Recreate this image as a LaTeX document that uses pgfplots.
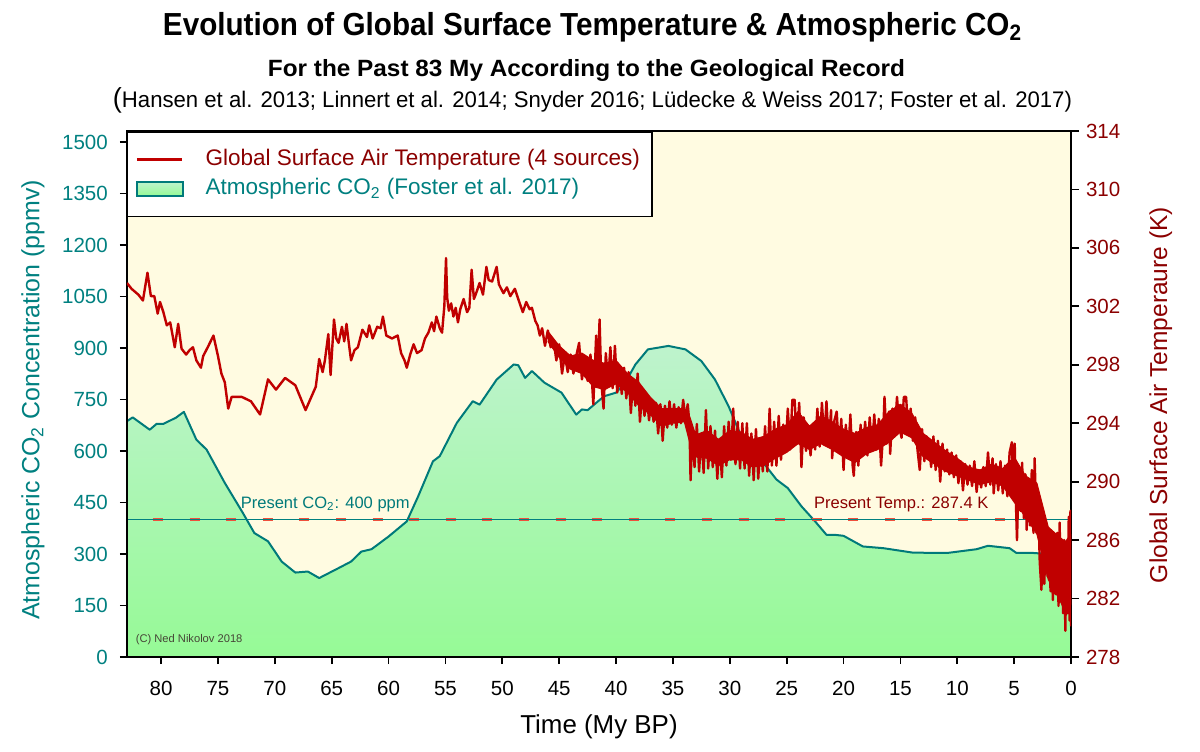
\documentclass[border=0pt]{standalone}
\usepackage{fontspec}
\setmainfont{Liberation Sans}
\usepackage{graphicx}
\usepackage{pgfplots}
\pgfplotsset{compat=1.18}
\usepackage{pgfplotstable}

\definecolor{tealc}{RGB}{0,128,128}
\definecolor{darkred}{RGB}{139,0,0}
\definecolor{tline}{RGB}{192,0,0}
\definecolor{cream}{RGB}{255,251,225}
\definecolor{gtop}{RGB}{190,243,205}
\definecolor{gbot}{RGB}{150,250,150}
\definecolor{co2line}{RGB}{0,122,122}
\definecolor{dashred}{RGB}{240,80,60}
\definecolor{copyc}{RGB}{70,70,55}

\pgfplotstableread{
t co2
83.0 687
82.5 698
81.0 662
80.4 679
79.8 679
78.7 697
78.0 714
76.9 633
76.0 604
74.4 507
72.8 419
71.8 361
70.6 337
69.4 278
68.2 246
67.1 249
66.1 230
64.4 259
63.3 278
62.4 307
61.5 314
60.0 351
58.4 395
57.4 468
56.1 570
55.5 585
54.0 682
52.6 745
52.0 735
50.5 808
49.0 852
48.6 850
48.0 813
47.4 833
46.3 799
44.8 770
43.5 706
43.0 721
42.5 719
41.4 750
41.0 760
40.0 770
39.2 799
38.3 852
37.2 896
35.4 906
33.9 896
32.5 862
31.3 808
30.1 730
29.0 643
27.5 585
25.9 517
24.9 492
23.7 439
22.5 395
21.5 356
20.8 356
20.0 353
18.3 322
16.5 317
13.9 304
10.9 303
8.3 314
7.3 324
5.4 317
4.8 303
3.3 303
2.0 300
1.0 295
0.0 290
}\cotwo

% core band of the high-frequency temperature record: upper edge (46 -> 0), then lower edge (0 -> 46)
\pgfplotstableread{
t T
46 300.3
45 299.3
44 298.6
43 298.8
42 298.3
41 298.1
40 298.3
39 297.4
38 296.8
37 295.8
36 295.0
35 295.0
34 295.0
33.5 294.4
33 293.2
32 293.5
31 292.9
30 293.5
29 293.4
28 292.9
27 293.1
26 293.6
25 293.9
24 294.8
23 293.8
22 294.5
21 294.1
20 293.6
19 293.3
18 293.7
17 293.9
16 294.8
15 295.3
14 294.7
13 293.3
12 292.7
11 292.1
10 291.6
9 291.0
8 290.8
7 291.2
6 290.9
5 291.7
4 290.4
3 289.9
2 286.9
1 286.2
0.5 285.9
0 286.4
0 281.6
0.5 281.1
1 281.9
2 283.3
3 286.4
4 287.6
5 288.6
6 289.7
7 290.0
8 289.8
9 290.1
10 290.4
11 290.7
12 291.2
13 291.7
14 293.0
15 293.4
16 292.7
17 292.2
18 291.9
19 291.3
20 291.7
21 292.2
22 292.6
23 292.2
24 292.6
25 292.0
26 291.6
27 291.1
28 291.0
29 291.5
30 291.5
31 291.1
32 291.6
33 291.7
33.5 292.6
34 294.1
35 294.0
36 293.8
37 294.6
38 295.2
39 296.1
40 296.7
41 296.3
42 296.5
43 297.4
44 297.7
45 298.5
46 299.6
}\band

\pgfplotstableread{
t T
83.0 303.6
82.6 303.2
82.0 302.8
81.6 302.4
81.2 304.3
80.9 302.7
80.6 302.7
80.3 301.5
80.1 302.3
79.8 301.6
79.5 300.7
79.2 300.9
78.8 299.2
78.5 300.8
78.2 299.1
77.8 298.7
77.5 299.0
77.2 299.2
76.9 298.3
76.5 297.8
76.3 298.6
75.9 299.2
75.4 300.0
75.0 298.6
74.7 297.4
74.4 296.8
74.1 295.0
73.8 295.8
72.9 295.8
72.1 295.5
71.3 294.6
70.6 297.0
69.9 296.3
69.1 297.1
68.2 296.6
67.3 294.9
66.4 296.5
66.1 298.4
65.8 297.5
65.6 298.3
65.3 300.1
65.1 297.3
64.8 301.1
64.6 299.8
64.4 299.5
64.1 300.6
63.9 299.6
63.7 300.8
63.5 299.5
63.3 298.3
63.0 299.0
62.7 299.2
62.3 300.4
61.9 299.9
61.7 300.7
61.4 299.8
61.0 300.6
60.7 300.5
60.5 301.3
60.2 300.0
59.7 299.8
59.2 300.0
58.9 298.8
58.6 298.3
58.4 297.8
58.1 298.7
57.8 299.4
57.5 298.8
57.1 299.0
56.8 299.8
56.5 300.2
56.2 300.9
56.0 300.3
55.8 301.3
55.5 300.5
55.3 300.2
55.1 302.0
54.95 305.3
54.85 302.6
54.7 301.7
54.5 302.2
54.3 301.3
54.1 301.9
53.9 300.9
53.7 301.8
53.4 302.5
53.1 301.6
52.9 301.9
52.7 304.5
52.5 302.5
52.3 302.9
52.0 303.6
51.7 302.8
51.4 304.7
51.2 303.8
50.9 303.7
50.7 304.2
50.5 304.7
50.3 303.5
50.1 303.2
49.9 302.9
49.6 303.3
49.3 302.7
48.9 303.2
48.6 302.5
48.2 301.6
47.9 302.3
47.6 301.8
47.4 301.9
47.1 301.0
46.9 300.7
46.7 300.0
46.5 300.5
46.25 299.3
46.0 300.35
45.75 299.2
45.5 299.7
45.25 298.3
45.0 299.4
44.75 297.4
44.5 298.7
44.25 297.5
44.0 298.7
43.75 297.4
43.5 298.6
43.25 299.5
43.0 297.0
42.75 298.4
42.5 296.9
42.25 298.7
42.0 295.3
41.75 300.0
41.6 297.6
41.45 301.1
41.3 296.85
41.1 295.0
40.9 298.8
40.7 296.8
40.5 299.2
40.3 296.4
40.1 299.3
39.9 296.1
39.7 297.8
39.5 296.0
39.3 297.8
39.1 295.7
38.9 297.5
38.7 294.7
38.5 297.0
38.3 295.2
38.1 297.4
37.9 294.1
37.7 296.15
37.5 294.5
37.3 295.85
37.1 294.2
36.9 295.6
36.7 294.1
36.5 295.4
36.3 293.3
36.1 295.3
35.9 292.8
35.7 295.2
35.5 293.7
35.3 295.5
35.1 293.9
34.9 295.3
34.7 293.7
34.5 295.1
34.3 294.0
34.1 295.6
33.9 294.3
33.7 295.3
33.55 294.0
33.45 290.1
33.3 293.3
33.1 291.0
32.9 293.95
32.7 290.7
32.5 293.3
32.3 290.6
32.1 294.9
31.9 290.9
31.7 293.8
31.5 291.0
31.3 293.5
31.1 290.2
30.9 292.9
30.7 290.3
30.5 293.8
30.3 291.1
30.1 294.1
29.9 291.5
29.7 295.0
29.5 291.2
29.3 294.1
29.1 290.9
28.9 294.0
28.7 290.9
28.5 294.0
28.3 290.4
28.1 293.3
27.9 290.1
27.7 293.6
27.5 290.2
27.3 292.8
27.1 290.7
26.9 293.8
26.7 290.7
26.5 295.0
26.3 291.1
26.1 294.1
25.9 291.1
25.7 294.5
25.5 291.5
25.3 293.9
25.1 292.1
24.9 295.0
24.7 292.2
24.5 295.6
24.3 295.6
24.1 292.6
23.9 295.4
23.7 291.0
23.5 294.4
23.3 292.1
23.1 293.6
22.9 291.8
22.7 293.7
22.5 292.2
22.3 295.0
22.1 292.4
21.9 295.4
21.7 292.8
21.5 295.5
21.3 292.4
21.1 294.9
21.0 291.6
20.8 294.2
20.6 294.8
20.4 292.0
20.2 294.3
20.0 290.8
19.8 293.9
19.6 291.7
19.4 294.6
19.2 291.1
19.1 290.4
18.9 293.4
18.7 291.1
18.5 293.9
18.3 292.1
18.1 294.1
17.9 291.8
17.7 294.4
17.5 292.1
17.3 294.6
17.1 292.2
16.9 294.3
16.7 291.1
16.5 293.6
16.4 295.8
16.2 292.6
16.0 294.8
15.9 291.9
15.7 295.0
15.5 293.3
15.3 295.8
15.1 293.8
14.9 293.0
14.7 295.8
14.5 295.8
14.3 293.3
14.1 295.0
13.9 292.8
13.7 294.4
13.5 292.2
13.3 290.8
13.1 293.6
12.9 291.4
12.7 293.1
12.5 292.8
12.3 291.0
12.1 293.1
11.9 290.8
11.7 292.8
11.5 290.0
11.3 292.6
11.1 290.7
10.9 292.2
10.7 290.5
10.5 292.0
10.3 290.3
10.1 291.8
9.9 289.9
9.7 291.4
9.5 289.4
9.3 291.2
9.1 289.8
8.9 291.1
8.7 289.7
8.5 291.4
8.3 289.3
8.1 290.8
7.9 289.6
7.7 291.0
7.5 289.7
7.3 292.0
7.1 289.8
6.9 291.6
6.8 289.2
6.6 291.2
6.4 289.4
6.2 291.4
6.0 289.2
5.8 291.1
5.6 289.0
5.4 292.0
5.2 292.7
5.1 289.5
4.95 292.6
4.85 288.7
4.75 286.0
4.6 290.5
4.45 288.0
4.3 291.3
4.15 287.5
4.0 290.5
3.9 286.7
3.75 290.0
3.6 287.0
3.45 290.8
3.3 286.5
3.2 291.6
3.05 287.5
2.9 289.2
2.75 284.5
2.6 282.6
2.5 286.0
2.35 283.0
2.2 287.0
2.05 283.5
1.95 286.5
1.8 282.5
1.7 286.0
1.6 281.9
1.45 285.5
1.35 282.3
1.2 286.5
1.1 281.5
1.0 287.2
0.9 282.0
0.8 285.8
0.7 281.0
0.6 286.0
0.5 279.8
0.4 285.5
0.3 281.0
0.2 287.6
0.12 280.5
0.05 288.0
0.0 280.1
}\temp

\begin{document}
\begin{tikzpicture}
\begin{axis}[
  scale only axis, width=472bp, height=263bp,
  xmin=0, xmax=83, x dir=reverse,
  ymin=0, ymax=1532,
  xtick={0,5,...,80}, ytick={0,150,...,1500},
  tick align=outside, xtick pos=lower, ytick pos=left,
  major tick length=3.6bp,
  axis line style={line width=0.85bp},
  every tick/.style={black, line width=0.85bp},
  axis background/.style={fill=cream},
  axis on top,
  /pgf/number format/assume math mode=true,
  /pgf/number format/1000 sep={},
  tick label style={font=\fontsize{10.3}{12}\selectfont},
  yticklabel style={text=tealc, xshift=-2.5bp},
  xticklabel style={text=black, yshift=-5bp},
  xlabel={Time (My BP)},
  xlabel style={font=\fontsize{13}{15}\selectfont, at={(axis description cs:0.5,-0.133)}, anchor=center},
  ylabel={Atmospheric CO\textsubscript{2} Concentration (ppmv)},
  ylabel style={font=\fontsize{12.5}{15}\selectfont, text=tealc, at={(axis description cs:-0.0995,0.4886)}, anchor=center},
]
\addplot[draw=none, top color=gtop, bottom color=gbot] table[x=t,y=co2]{\cotwo} \closedcycle;
\addplot[co2line, line width=1bp, line join=round] table[x=t,y=co2]{\cotwo};
\addplot[dashred, line width=1.3bp, dash pattern=on 5bp off 13.3bp, dash phase=5.3bp] coordinates {(83,400) (0,400)};
\addplot[tealc, line width=0.7bp] coordinates {(83,400) (0,400)};
\node[anchor=base, text=co2line, font=\fontsize{8.3}{10}\selectfont] at (axis cs:65.57,433) {Present CO\textsubscript{2}: 400 ppm};
\node[anchor=base, text=darkred, font=\fontsize{8.3}{10}\selectfont] at (axis cs:14.93,433) {Present Temp.: 287.4 K};
\node[anchor=base west, text=copyc, font=\fontsize{5.6}{7}\selectfont, inner sep=0pt] at (axis cs:82.26,41) {(C) Ned Nikolov 2018};
\end{axis}
\begin{axis}[
  scale only axis, width=472bp, height=263bp,
  xmin=0, xmax=83, x dir=reverse,
  axis x line=none,
  axis y line*=right,
  ymin=278, ymax=314, ytick={278,282,...,314},
  tick align=outside, major tick length=4bp,
  axis line style={line width=0.85bp},
  every tick/.style={black, line width=0.85bp},
  /pgf/number format/assume math mode=true,
  tick label style={font=\fontsize{10.3}{12}\selectfont},
  yticklabel style={text=darkred},
  ylabel={Global Surface Air Temperaure (K)},
  ylabel style={font=\fontsize{12.3}{15}\selectfont, text=darkred, at={(axis description cs:1.0952,0.498)}, anchor=center},
  legend style={at={(0,1)}, anchor=north west, draw=black, line width=0.75bp, fill=white,
    inner xsep=4bp, inner ysep=6.5bp, font=\fontsize{11.3}{13}\selectfont, row sep=0bp,
    nodes={inner sep=2bp, text height=8.2bp, text depth=2.5bp},
    /tikz/every odd column/.append style={column sep=9bp}},
  legend cell align=left,
]
\addplot[forget plot, fill=tline, draw=tline, line width=0.5bp, line join=round] table[x=t,y=T]{\band};
\addplot[tline, line width=1.2bp, line join=round,
  legend image code/.code={\draw[tline, line width=1.2bp] (0bp,0bp) -- (22.5bp,0bp);}] table[x=t,y=T]{\temp};
\addlegendentry{\textcolor{darkred}{Global Surface Air Temperature (4 sources)}}
\addlegendimage{legend image code/.code={\draw[draw=co2line, line width=0.7bp, top color=gtop, bottom color=gbot] (0bp,-3.5bp) rectangle (23bp,3.5bp);}}
\addlegendentry{\textcolor{tealc}{Atmospheric CO\textsubscript{2} (Foster et al. 2017)}}
\end{axis}
\begin{scope}[shift={(-63.5bp,328.5bp)}, x=0.5bp, y=-0.5bp]
\node[anchor=base, font=\bfseries\fontsize{16}{18}\selectfont, inner sep=0pt] at (592.5,35.5)
  {\resizebox{429.5bp}{\height}{Evolution of Global Surface Temperature \& Atmospheric CO\textsubscript{2}}};
\node[anchor=base, font=\bfseries\fontsize{11.8}{14}\selectfont, inner sep=0pt] at (586.5,77)
  {\resizebox{318.5bp}{\height}{For the Past 83 My According to the Geological Record}};
\node[anchor=base, font=\fontsize{11.3}{13}\selectfont, inner sep=0pt] at (592.5,108)
  {\resizebox{479.5bp}{\height}{{\fontsize{13.8}{14}\selectfont(}Hansen et al. 2013; Linnert et al. 2014; Snyder 2016; Lüdecke \& Weiss 2017; Foster et al. 2017)}};
\pgfresetboundingbox
\path[use as bounding box] (0,0) rectangle (1200,751);
\end{scope}
\end{tikzpicture}
\end{document}
